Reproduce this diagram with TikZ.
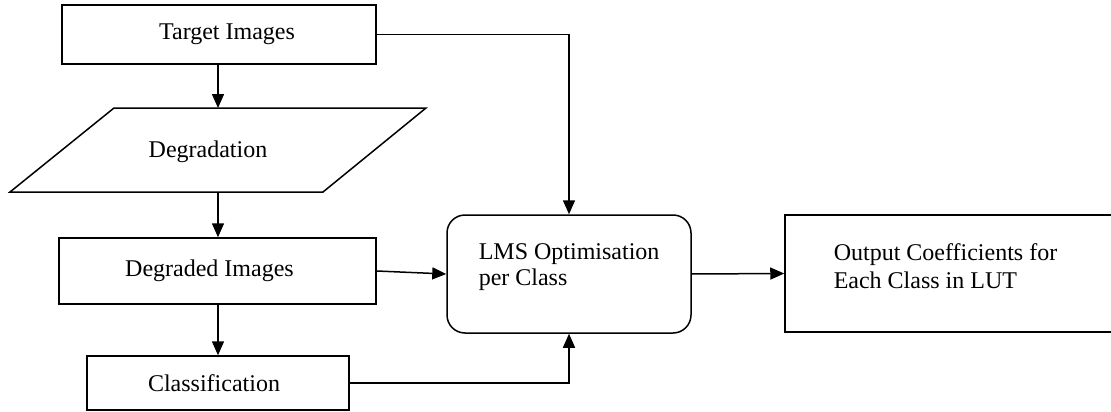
\documentclass[tikz,border=0pt]{standalone}
\usepackage{fontspec}
\setmainfont{Liberation Serif}
\usetikzlibrary{arrows.meta}
\begin{document}
\begin{tikzpicture}[x=1pt,y=-1pt,
  line width=1.5pt,
  every node/.style={font=\fontsize{24}{28}\selectfont, inner sep=0pt},
  boxnode/.style={draw, line width=1.5pt, rectangle},
  flow/.style={draw, line width=1.5pt, -{Triangle[length=14pt,width=12pt]}},
  txt/.style={anchor=base west, align=left}
]
\useasboundingbox (0,0) rectangle (1111,412);

% boxes
\node[boxnode, minimum width=314pt, minimum height=59pt] (tgt) at (219,34.5) {\hspace*{16pt}Target Images};
\coordinate (degtop) at (218,108);
\coordinate (degbot) at (218,192);
\draw (114,108) -- (426,108) -- (323,192) -- (10,192) -- cycle;
\node (deg) at (208,152) {Degradation};
\node[boxnode, minimum width=317pt, minimum height=66pt] (dgi) at (217.5,271) {Degraded Images\hspace*{16pt}};
\node[boxnode, minimum width=262pt, minimum height=54pt] (cls) at (218,383) {Classification\hspace*{8pt}};
\node[boxnode, rounded corners=18pt, minimum width=244pt, minimum height=118pt] (lms) at (569,274) {};
\node[txt] (lmst) at (478,285) {LMS Optimisation\\[-2pt]per Class};
\node[boxnode, minimum width=345pt, minimum height=117pt] (out) at (957.5,273.5) {};
\node[txt] (outt) at (833,288) {Output Coefficients for\\Each Class in LUT};

% connectors
\draw[flow] (tgt.south -| degtop) -- (degtop);
\draw[flow] (degbot) -- (dgi.north -| degbot);
\draw[flow] (dgi.south -| degbot) -- (cls.north -| degbot);
\draw[flow] (tgt.east) -| (lms.north);
\draw[flow] (dgi.east) -- (lms.west);
\draw[flow] (cls.east) -| (lms.south);
\draw[flow] (lms.east) -- (out.west);
\end{tikzpicture}
\end{document}
